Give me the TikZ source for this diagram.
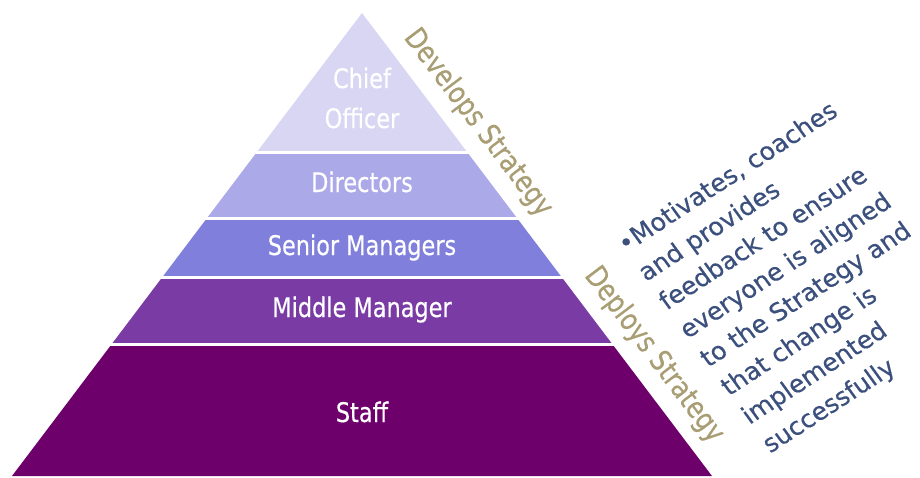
\documentclass[tikz,border=0pt]{standalone}
\usepackage{fontspec}
\setmainfont{DejaVu Sans}[FakeBold=0.4]
\newfontfamily\narrowfont{DejaVu Sans}[FakeStretch=0.83,FakeBold=0.4]

\definecolor{chiefcol}{RGB}{216,214,242}
\definecolor{dircol}{RGB}{172,169,233}
\definecolor{seniorcol}{RGB}{128,128,220}
\definecolor{middlecol}{RGB}{122,59,165}
\definecolor{staffcol}{RGB}{110,0,107}
\definecolor{tancol}{RGB}{168,157,115}
\definecolor{notecol}{RGB}{60,80,126}

\tikzset{
  tier/.style={text=white,inner sep=0pt,align=center,
    font=\narrowfont\fontsize{27}{40}\selectfont},
  side/.style={text=tancol,inner sep=0pt,rotate=-52.9,
    font=\narrowfont\fontsize{29.5}{35}\selectfont},
  % 斜放的文字框,略有错切
  note/.style={text=notecol,inner sep=0pt,align=left,
    cm={0.839,0.545,-0.586,0.810,(0,0)},
    font=\fontsize{25}{35.3}\selectfont}
}

\begin{document}
\begin{tikzpicture}[x=1pt,y=-1pt]
  \useasboundingbox (0,0) rectangle (920,477);

  % 金字塔
  \begin{scope}
    \clip (362,13) -- (712,476) -- (12,476) -- cycle;
    \fill[chiefcol] (0,0) rectangle (920,150.5);
    \fill[dircol] (0,153.5) rectangle (920,216.5);
    \fill[seniorcol] (0,219.5) rectangle (920,275.5);
    \fill[middlecol] (0,278.5) rectangle (920,342.5);
    \fill[staffcol] (0,345.5) rectangle (920,477);
  \end{scope}

  % 各层文字
  \node[tier] (chief) at (362,98) {Chief\\Officer};
  \node[tier,anchor=base] (directors) at (362,192) {Directors};
  \node[tier,anchor=base] (senior) at (362,255) {Senior Managers};
  \node[tier,anchor=base] (middle) at (362,317) {Middle Manager};
  \node[tier,anchor=base] (staff) at (362,422) {Staff};

  % 右侧斜边
  \node[side] (develops) at (478,123) {Develops Strategy};
  \node[side] (deploys) at (654,355) {Deploys Strategy};

  % 说明
  \node[note,anchor=north west] (motivates) at (614,238)
    {•Motivates, coaches\\and provides\\feedback to ensure\\everyone is aligned\\
     to the Strategy and\\that change is\\implemented\\successfully};
\end{tikzpicture}
\end{document}
